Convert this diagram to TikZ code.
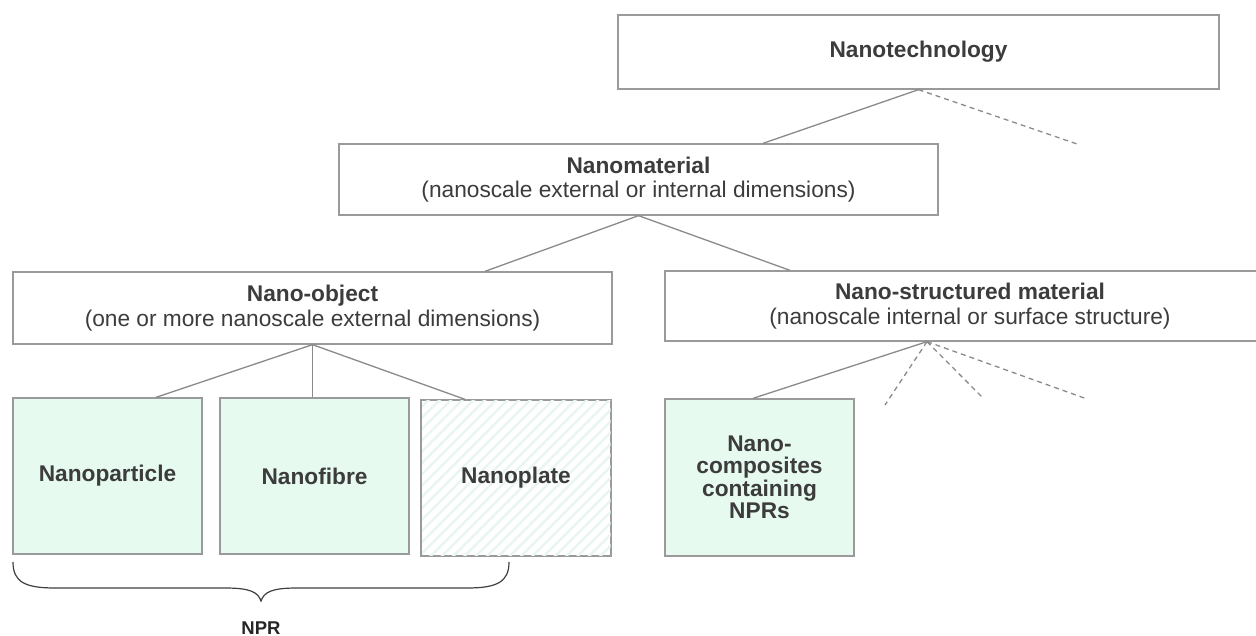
\documentclass[tikz,border=0pt]{standalone}
\usepackage{fontspec}
\setmainfont{Liberation Sans}
\usetikzlibrary{calc,patterns.meta}
\definecolor{boxline}{HTML}{9A9A9A}
\definecolor{conn}{HTML}{8A8A8A}
\definecolor{mint}{HTML}{E6FAF0}
\definecolor{hatch}{HTML}{E8F6F1}
\definecolor{txt}{HTML}{3C3C3C}
\tikzset{
  box/.style={draw=boxline, line width=1.3pt, inner sep=0pt, text=txt, align=center,
    font=\fontsize{22.7}{24.5}\selectfont},
  leaf/.style={box, fill=mint, minimum width=189pt, minimum height=156pt,
    font=\bfseries\fontsize{22.7}{22.5}\selectfont},
  link/.style={draw=conn, line width=1.3pt},
  dlink/.style={link, dash pattern=on 5pt off 4pt},
}
\begin{document}
\begin{tikzpicture}[x=1pt,y=-1pt]
\clip (0,0) rectangle (1256,636);
\fill[white] (0,0) rectangle (1256,636);

\node[box, minimum width=601pt, minimum height=74pt] (tech) at (918.5,52) {\textbf{Nanotechnology}};
\node[box, minimum width=599pt, minimum height=71pt] (mat) at (638.5,179.5)
  {\textbf{Nanomaterial}\\(nanoscale external or internal dimensions)};
\node[box, minimum width=599pt, minimum height=72pt] (obj) at (312.5,308)
  {\textbf{Nano-object}\\(one or more nanoscale external dimensions)};
\node[box, minimum width=610pt, minimum height=70pt] (str) at (970,306)
  {\textbf{Nano-structured material}\\(nanoscale internal or surface structure)};

\node[leaf] (part) at (107.5,476) {Nanoparticle};
\node[leaf] (fib) at (314.5,476) {Nanofibre};
\node[leaf, fill=white, postaction={pattern={Lines[angle=45,distance=8pt,line width=2.4pt]}, pattern color=hatch}] (plate) at (516,478) {};
\node[leaf, draw=none, fill=none] (platet) at (516,478) {Nanoplate};
\draw[boxline, line width=1.3pt] (plate.north west) rectangle (plate.south east);
\node[leaf, minimum height=157pt] (comp) at (759.5,477.5) {Nano-\\composites\\containing\\NPRs};

\coordinate (d1) at (1080,145);
\coordinate (d2) at (885,405);
\coordinate (d3) at (983,398);
\coordinate (d4) at (1087,399);

\draw[link] (tech.south) -- ([xshift=124.5pt]mat.north);
\draw[dlink] (tech.south) -- (d1);
\draw[link] (mat.south) -- ([xshift=172.5pt]obj.north);
\draw[link] (mat.south) -- ([xshift=-180pt]str.north);
\draw[link] (obj.south) -- ([xshift=48.5pt]part.north);
\draw[link] (obj.south) -- (obj.south |- fib.north);
\draw[link] (obj.south) -- ([xshift=-51pt]plate.north);
\draw[link] ([xshift=-43pt]str.south) -- ([xshift=-6.5pt]comp.north);
\draw[dlink] ([xshift=-43pt]str.south) -- (d2);
\draw[dlink] ([xshift=-43pt]str.south) -- (d3);
\draw[dlink] ([xshift=-43pt]str.south) -- (d4);

\coordinate (bl) at (13,562);
\coordinate (br) at (509,562);
\coordinate (bt) at (261,601);
\draw[line width=1.2pt, black!75] (bl) .. controls (13,582) and (25,588) .. (55,588)
  -- (225,588) .. controls (250,588) and (258,592) .. (bt)
  .. controls (264,592) and (272,588) .. (297,588)
  -- (467,588) .. controls (497,588) and (509,582) .. (br);
\node[font=\bfseries\fontsize{18.5}{20}\selectfont, text=black!85, anchor=base, inner sep=0pt] (npr) at (261,634) {NPR};
\end{tikzpicture}
\end{document}
